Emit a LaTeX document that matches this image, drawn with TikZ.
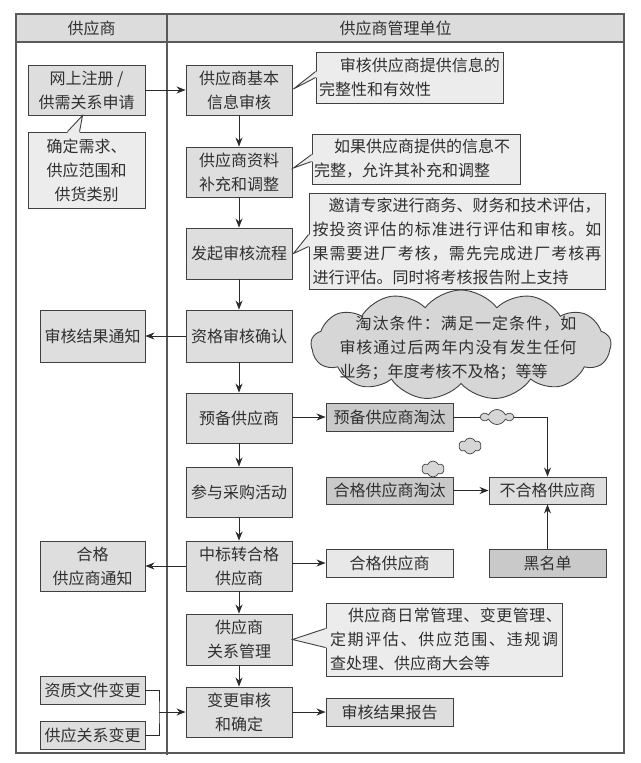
\documentclass[tikz,border=0pt]{standalone}
\usepackage{fontspec}
\setmainfont{Noto Sans CJK SC}
\usetikzlibrary{shapes.symbols,arrows.meta,calc}
\definecolor{boxfill}{HTML}{DEDEDE}
\definecolor{darkfill}{HTML}{C9C9C9}
\definecolor{lightfill}{HTML}{E8E8E8}
\definecolor{callfill}{HTML}{ECECEC}
\definecolor{cloudfill}{HTML}{D6D6D6}
\definecolor{hdrfill}{HTML}{DCDCDC}
\definecolor{bordercol}{HTML}{404040}
\definecolor{framecol}{HTML}{5A5A5A}
\definecolor{textcol}{HTML}{303030}
\definecolor{linecol}{HTML}{2A2A2A}
\makeatletter
\def\jline#1#2{\leavevmode\hbox to #1{\jl@first#2\relax}}
\def\jl@first#1{#1\jl@rest}
\def\jl@rest#1{\ifx#1\relax\else\hfil#1\expandafter\jl@rest\fi}
\makeatother
\begin{document}
\begin{tikzpicture}[x=1pt,y=-1pt,
  every node/.style={font=\fontsize{16}{24}\selectfont, text=textcol},
  base/.style={draw=bordercol, line width=0.9pt, inner sep=0pt, align=center},
  mainbox/.style={base, fill=boxfill, minimum width=106pt, minimum height=50pt},
  smallbox/.style={base, minimum width=127pt, minimum height=28pt},
  callbox/.style={base, fill=callfill},
  ptrfill/.style={fill=callfill},
  ptrline/.style={draw=bordercol, line width=0.9pt, line join=miter},
  arr/.style={draw=linecol, line width=0.9pt, -{Stealth[length=9pt,width=7pt]}},
  plain/.style={draw=linecol, line width=0.9pt},
  bigcloud/.style={cloud, cloud puffs=13, cloud puff arc=105, cloud ignores aspect,
    draw=bordercol, fill=cloudfill, line width=0.9pt, inner sep=0pt},
  tinycloud/.style={cloud, cloud puffs=6, cloud puff arc=130, cloud ignores aspect,
    draw=bordercol, fill=cloudfill, line width=0.7pt, inner sep=0pt}
]
\useasboundingbox (0,0) rectangle (640,763);
% frame and header
\fill[hdrfill] (16,14) rectangle (624,42);
\draw[framecol, line width=1.3pt] (16,14) rectangle (624,753);
\draw[framecol, line width=1.3pt] (16,42) -- (624,42);
\draw[framecol, line width=1.1pt] (167,14) -- (167,755);
\node (h1) at (91.5,28) {供应商};
\node (h2) at (395.5,28) {供应商管理单位};

% main column
\node[mainbox] (A1) at (239,90) {供应商基本\\信息审核};
\node[mainbox] (A2) at (239,172) {供应商资料\\补充和调整};
\node[mainbox, minimum height=51pt] (A3) at (239,253.5) {发起审核流程};
\node[mainbox, minimum height=52pt] (A4) at (239,336) {资格审核确认};
\node[mainbox] (A5) at (239,418) {预备供应商};
\node[mainbox] (A6) at (239,492) {参与采购活动};
\node[mainbox] (A7) at (239,566) {中标转合格\\供应商};
\node[mainbox, minimum height=51pt] (A8) at (239,639.5) {供应商\\关系管理};
\node[mainbox] (A9) at (239,712) {变更审核\\和确定};

% left column
\node[mainbox, minimum width=117pt] (L1) at (86.5,90) {网上注册 /\\供需关系申请};
\node[callbox, minimum width=117pt, minimum height=76pt] (L2) at (86.5,170) {确定需求、\\供应范围和\\供货类别};
\node[mainbox, minimum width=105pt, minimum height=52pt] (L3) at (92.5,336) {审核结果通知};
\node[mainbox, minimum width=105pt] (L4) at (92.5,566) {合格\\供应商通知};
\node[smallbox, fill=boxfill, minimum width=105pt] (L5) at (92.5,690) {资质文件变更};
\node[smallbox, fill=boxfill, minimum width=105pt] (L6) at (92.5,735) {供应关系变更};

% callouts
\node[callbox, align=left, text width=181pt, inner xsep=3pt, minimum height=51pt] (C1) at (409.5,77.5)
  {\hspace*{1.3em}审核供应商提供信息的\\完整性和有效性};
\node[callbox, align=left, text width=204pt, inner xsep=2pt, minimum height=50pt] (C2) at (416,159)
  {\hspace*{1.25em}如果供应商提供的信息不\\完整，允许其补充和调整};
\node[callbox, align=left, text width=289pt, inner xsep=3.5pt, minimum height=96pt] (C3) at (457,241)
  {\hspace*{1em}邀请专家进行商务、财务和技术评估，\\
   \jline{289pt}{按投资评估的标准进行评估和审核。如}\\
   \jline{289pt}{果需要进厂考核，需先完成进厂考核再}\\
   进行评估。同时将考核报告附上支持};
\node[callbox, align=left, text width=228pt, inner xsep=4pt, minimum height=73pt] (C4) at (444,639.5)
  {\hspace*{18pt}\jline{214pt}{供应商日常管理、变更管理、}\\
   \jline{228pt}{定期评估、供应范围、违规调}\\
   查处理、供应商大会等};

% callout pointers
\fill[ptrfill] ($(L2.north west)+(40,0)$) -- ($(L1.south west)+(55,0)$) -- ($(L2.north west)+(52,0)$)
  -- ($(L2.north west)+(52,2)$) -- ($(L2.north west)+(40,2)$) -- cycle;
\draw[ptrline] ($(L2.north west)+(40,0)$) -- ($(L1.south west)+(55,0)$) -- ($(L2.north west)+(52,0)$);

\fill[ptrfill] ($(C1.north west)+(0,20)$) -- ($(A1.east)+(1,-1)$) -- ($(C1.north west)+(0,26)$)
  -- ($(C1.north west)+(2,26)$) -- ($(C1.north west)+(2,20)$) -- cycle;
\draw[ptrline] ($(C1.north west)+(0,20)$) -- ($(A1.east)+(1,-1)$) -- ($(C1.north west)+(0,26)$);

\fill[ptrfill] ($(C2.north west)+(0,21)$) -- ($(A2.east)+(1,-4)$) -- ($(C2.north west)+(0,28)$)
  -- ($(C2.north west)+(2,28)$) -- ($(C2.north west)+(2,21)$) -- cycle;
\draw[ptrline] ($(C2.north west)+(0,21)$) -- ($(A2.east)+(1,-4)$) -- ($(C2.north west)+(0,28)$);

\fill[ptrfill] ($(C3.north west)+(0,42)$) -- ($(A3.east)+(1,0)$) -- ($(C3.north west)+(0,54)$)
  -- ($(C3.north west)+(2,54)$) -- ($(C3.north west)+(2,42)$) -- cycle;
\draw[ptrline] ($(C3.north west)+(0,42)$) -- ($(A3.east)+(1,0)$) -- ($(C3.north west)+(0,54)$);

\fill[ptrfill] ($(C4.north west)+(0,26)$) -- ($(A8.east)+(0,0)$) -- ($(C4.north west)+(0,45)$)
  -- ($(C4.north west)+(2,45)$) -- ($(C4.north west)+(2,26)$) -- cycle;
\draw[ptrline] ($(C4.north west)+(0,26)$) -- ($(A8.east)+(0,0)$) -- ($(C4.north west)+(0,45)$);

% big cloud
\node[bigcloud, minimum width=300pt, minimum height=110pt] (cloud) at (461,345) {};
\node[align=left, text width=237pt, inner sep=0pt] (cloudtxt) at (458,348)
  {\hspace*{16pt}\jline{221pt}{淘汰条件：满足一定条件，如}\\
   \jline{237pt}{审核通过后两年内没有发生任何}\\
   业务；年度考核不及格；等等};

% right boxes
\node[smallbox, fill=darkfill] (R1) at (389.5,417) {预备供应商淘汰};
\node[smallbox, fill=darkfill, minimum height=27pt] (R2) at (389.5,490.5) {合格供应商淘汰};
\node[smallbox, fill=boxfill, minimum width=117pt, minimum height=27pt] (R3) at (547.5,490.5) {不合格供应商};
\node[smallbox, fill=lightfill] (R4) at (389.5,563) {合格供应商};
\node[smallbox, fill=darkfill, minimum width=117pt] (R5) at (547.5,563) {黑名单};
\node[smallbox, fill=boxfill] (R6) at (389.5,712) {审核结果报告};

% connectors
\draw[arr] (L1.east) -- (A1.west);
\draw[arr] (A1.south) -- (A2.north);
\draw[arr] (A2.south) -- (A3.north);
\draw[arr] (A3.south) -- (A4.north);
\draw[arr] (A4.south) -- (A5.north);
\draw[arr] (A5.south) -- (A6.north);
\draw[arr] (A6.south) -- (A7.north);
\draw[arr] (A7.south) -- (A8.north);
\draw[arr] (A8.south) -- (A9.north);
\draw[arr] (A4.west) -- (L3.east);
\draw[arr] (A7.west) -- (L4.east);
\draw[arr] (R1.west -| A5.east) -- (R1.west);
\draw[arr] (R4.west -| A7.east) -- (R4.west);
\draw[arr] (A9.east) -- (R6.west);
\draw[arr] (R1.east) -| (R3.north);
\draw[arr] (R2.east) -- (R3.west);
\draw[arr] (R5.north) -- (R3.south);
\coordinate (jm) at (159,712);
\draw[plain] (L5.east) -| (jm) |- (L6.east);
\draw[arr] (jm) -- (A9.west);

% small clouds
\node[tinycloud, minimum width=31pt, minimum height=15pt] (sc1) at (497,417) {};
\node[tinycloud, minimum width=22pt, minimum height=16pt] (sc2) at (470,446) {};
\node[tinycloud, minimum width=22pt, minimum height=16pt] (sc3) at (433,469) {};
\end{tikzpicture}
\end{document}
